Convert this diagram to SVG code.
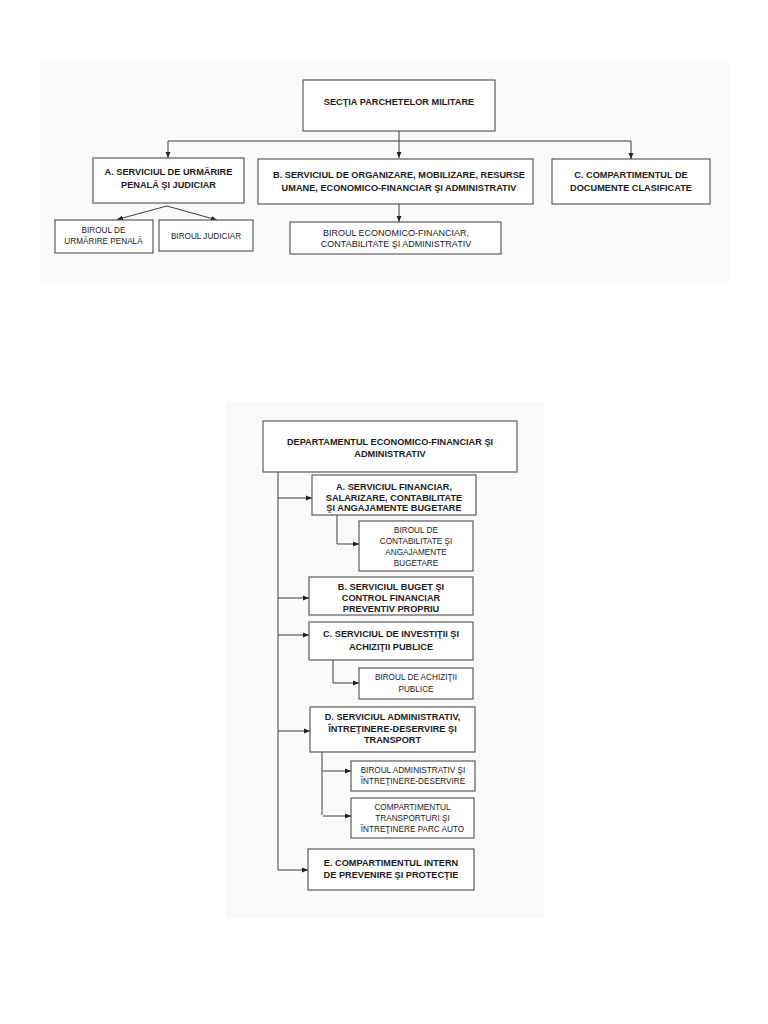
<svg xmlns="http://www.w3.org/2000/svg" width="768" height="1024" viewBox="0 0 768 1024">
<defs>
<style>
.bg{fill:#fafafc;stroke:none}
.box{fill:#ffffff;stroke:#4d4d4d;stroke-width:1.1}
.b{font-family:"Liberation Sans",Arial,sans-serif;font-weight:bold;font-size:9.2px;fill:#1c1c1c;text-anchor:middle}
.r{font-family:"Liberation Sans",Arial,sans-serif;font-size:8.2px;fill:#222;text-anchor:middle}
.r9{font-family:"Liberation Sans",Arial,sans-serif;font-size:9px;fill:#222;text-anchor:middle}
.c{fill:none;stroke:#3c3c3c;stroke-width:1}
</style>
<marker id="ah" markerWidth="6" markerHeight="6" refX="6" refY="3" orient="auto" markerUnits="userSpaceOnUse">
<path d="M0,0.6 L6,3 L0,5.4 z" fill="#222"/>
</marker>
</defs>
<rect width="768" height="1024" fill="#ffffff"/>
<rect class="bg" x="40" y="62" width="689" height="220"/>
<rect class="bg" x="226" y="402" width="318" height="516"/>

<g id="connectors">
<line class="c" x1="399" y1="131" x2="399" y2="158" marker-end="url(#ah)"/>
<line class="c" x1="168" y1="141" x2="631" y2="141" stroke="#555"/>
<line class="c" x1="168" y1="141" x2="168" y2="158" marker-end="url(#ah)"/>
<line class="c" x1="631" y1="141" x2="631" y2="159" marker-end="url(#ah)"/>
<line class="c" x1="167" y1="206" x2="117" y2="219.5" marker-end="url(#ah)"/>
<line class="c" x1="167" y1="206" x2="217" y2="220" marker-end="url(#ah)"/>
<line class="c" x1="399" y1="204" x2="399" y2="222" marker-end="url(#ah)"/>

<line class="c" x1="278" y1="472" x2="278" y2="870"/>
<line class="c" x1="278" y1="498" x2="312" y2="498" marker-end="url(#ah)"/>
<polyline class="c" points="337,515 337,544 359,544" marker-end="url(#ah)"/>
<line class="c" x1="278" y1="598" x2="309" y2="598" marker-end="url(#ah)"/>
<line class="c" x1="278" y1="635" x2="309" y2="635" marker-end="url(#ah)"/>
<polyline class="c" points="333,660 333,683 359,683" marker-end="url(#ah)"/>
<line class="c" x1="278" y1="731" x2="310" y2="731" marker-end="url(#ah)"/>
<line class="c" x1="322" y1="752" x2="322" y2="815"/>
<line class="c" x1="323" y1="771" x2="351" y2="771" marker-end="url(#ah)"/>
<line class="c" x1="323" y1="816" x2="351" y2="816" marker-end="url(#ah)"/>
<line class="c" x1="278" y1="870" x2="308" y2="870" marker-end="url(#ah)"/>
</g>

<g id="sectia">
<rect class="box" x="303" y="80" width="192" height="51"/>
<text class="b" x="399" y="105.3">SECŢIA PARCHETELOR MILITARE</text>
</g>
<g id="serv-a">
<rect class="box" x="93" y="158" width="151" height="45"/>
<text class="b" x="168.5" y="175.3">A. SERVICIUL DE URMĂRIRE</text>
<text class="b" x="168.5" y="187.5">PENALĂ ŞI JUDICIAR</text>
</g>
<g id="serv-b">
<rect class="box" x="258" y="159" width="275" height="45"/>
<text class="b" x="399" y="178.3">B. SERVICIUL DE ORGANIZARE, MOBILIZARE, RESURSE</text>
<text class="b" x="399" y="191.3">UMANE, ECONOMICO-FINANCIAR ŞI ADMINISTRATIV</text>
</g>
<g id="comp-c">
<rect class="box" x="552" y="159" width="158" height="45"/>
<text class="b" x="631" y="178.3">C. COMPARTIMENTUL DE</text>
<text class="b" x="631" y="191.3">DOCUMENTE CLASIFICATE</text>
</g>
<g id="birou-urmarire">
<rect class="box" x="55" y="220" width="98" height="33"/>
<text class="r" x="103.5" y="233">BIROUL DE</text>
<text class="r" x="103.5" y="243.5">URMĂRIRE PENALĂ</text>
</g>
<g id="birou-judiciar">
<rect class="box" x="159" y="220" width="94" height="31"/>
<text class="r" x="206" y="239">BIROUL JUDICIAR</text>
</g>
<g id="birou-economico">
<rect class="box" x="290" y="222" width="211" height="32"/>
<text class="r9" x="396" y="235.5">BIROUL ECONOMICO-FINANCIAR,</text>
<text class="r9" x="396" y="246.5">CONTABILITATE ŞI ADMINISTRATIV</text>
</g>

<g id="departament">
<rect class="box" x="263" y="421" width="254" height="51"/>
<text class="b" x="390" y="445.3">DEPARTAMENTUL ECONOMICO-FINANCIAR ŞI</text>
<text class="b" x="390" y="456.5">ADMINISTRATIV</text>
</g>
<g id="d-serv-a">
<rect class="box" x="312" y="475" width="164" height="40"/>
<text class="b" x="394" y="490.3">A. SERVICIUL FINANCIAR,</text>
<text class="b" x="394" y="500.8">SALARIZARE, CONTABILITATE</text>
<text class="b" x="394" y="511.3">ŞI ANGAJAMENTE BUGETARE</text>
</g>
<g id="d-birou-contabilitate">
<rect class="box" x="359" y="521" width="114" height="50"/>
<text class="r" x="416" y="533">BIROUL DE</text>
<text class="r" x="416" y="544">CONTABILITATE ŞI</text>
<text class="r" x="416" y="555">ANGAJAMENTE</text>
<text class="r" x="416" y="565.5">BUGETARE</text>
</g>
<g id="d-serv-b">
<rect class="box" x="309" y="577" width="164" height="38"/>
<text class="b" x="391" y="590">B. SERVICIUL BUGET ŞI</text>
<text class="b" x="391" y="601">CONTROL FINANCIAR</text>
<text class="b" x="391" y="611.5">PREVENTIV PROPRIU</text>
</g>
<g id="d-serv-c">
<rect class="box" x="309" y="622" width="164" height="38"/>
<text class="b" x="391" y="637.3">C. SERVICIUL DE INVESTIŢII ŞI</text>
<text class="b" x="391" y="650.3">ACHIZIŢII PUBLICE</text>
</g>
<g id="d-birou-achizitii">
<rect class="box" x="359" y="668" width="114" height="31"/>
<text class="r" x="416" y="680.3">BIROUL DE ACHIZIŢII</text>
<text class="r" x="416" y="692.3">PUBLICE</text>
</g>
<g id="d-serv-d">
<rect class="box" x="310" y="707" width="165" height="45"/>
<text class="b" x="392.5" y="720.3">D. SERVICIUL ADMINISTRATIV,</text>
<text class="b" x="392.5" y="731.8">ÎNTREŢINERE-DESERVIRE ŞI</text>
<text class="b" x="392.5" y="743.3">TRANSPORT</text>
</g>
<g id="d-birou-administrativ">
<rect class="box" x="351" y="761" width="124" height="30"/>
<text class="r" x="413" y="773.3">BIROUL ADMINISTRATIV ŞI</text>
<text class="r" x="413" y="784.3">ÎNTREŢINERE-DESERVIRE</text>
</g>
<g id="d-comp-transporturi">
<rect class="box" x="351" y="798" width="123" height="40"/>
<text class="r" x="412.5" y="810">COMPARTIMENTUL</text>
<text class="r" x="412.5" y="821">TRANSPORTURI ŞI</text>
<text class="r" x="412.5" y="831.5">ÎNTREŢINERE PARC AUTO</text>
</g>
<g id="d-comp-e">
<rect class="box" x="308" y="849" width="166" height="41"/>
<text class="b" x="391" y="866.3">E. COMPARTIMENTUL INTERN</text>
<text class="b" x="391" y="878.3">DE PREVENIRE ŞI PROTECŢIE</text>
</g>
</svg>
